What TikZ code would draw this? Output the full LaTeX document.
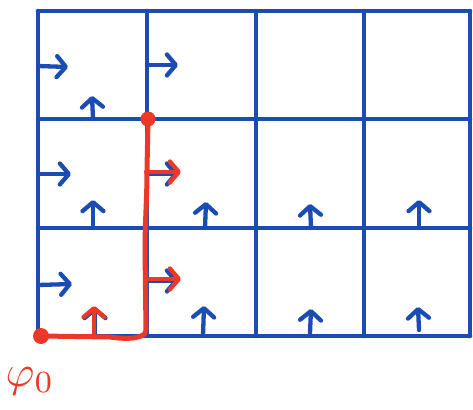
\documentclass[tikz,border=0pt]{standalone}
\usetikzlibrary{arrows.meta}
\definecolor{gblue}{RGB}{27,76,178}
\definecolor{gred}{RGB}{236,56,38}
\begin{document}
\begin{tikzpicture}[x=1pt,y=-1pt,
  gridline/.style={draw=gblue,line width=4.5pt,line cap=round},
  barb/.style={-{Straight Barb[length=9pt,width=21pt,round]},line width=4.3pt,line cap=round},
  bvec/.style={barb,draw=gblue},
  rvec/.style={barb,draw=gred},
  rpath/.style={draw=gred,line width=5pt,line cap=round,line join=round}]
\useasboundingbox (0,0) rectangle (473,409);
% grid
\foreach \x in {38,147,256,364,470} \draw[gridline] (\x,11) -- (\x,336);
\foreach \y in {11,119,228,336} \draw[gridline] (38,\y) -- (470,\y);
% blue horizontal arrows
\coordinate (h1s) at (38,66);  \coordinate (h1e) at (68,67);
\coordinate (h2s) at (147,65); \coordinate (h2e) at (178,65);
\coordinate (h3s) at (38,174); \coordinate (h3e) at (71,174);
\coordinate (h4s) at (38,285); \coordinate (h4e) at (72,284);
\coordinate (h5s) at (147,174); \coordinate (h5e) at (178,174);
\coordinate (h6s) at (147,281); \coordinate (h6e) at (178,281);
\foreach \a in {1,...,6} \draw[bvec] (h\a s) -- (h\a e);
% blue vertical arrows
\coordinate (v1s) at (93,119);  \coordinate (v1e) at (92,96);
\coordinate (v2s) at (93,228);  \coordinate (v2e) at (93,200);
\coordinate (v3s) at (205,228); \coordinate (v3e) at (206,202);
\coordinate (v4s) at (311,228); \coordinate (v4e) at (310,204);
\coordinate (v5s) at (419,228); \coordinate (v5e) at (419,200);
\coordinate (v6s) at (95,336);  \coordinate (v6e) at (95,307);
\coordinate (v7s) at (203,336); \coordinate (v7e) at (204,306);
\coordinate (v8s) at (310,333); \coordinate (v8e) at (311,309);
\coordinate (v9s) at (419,330); \coordinate (v9e) at (418,307);
\foreach \a in {1,...,9} \draw[bvec] (v\a s) -- (v\a e);
% red path
\node[circle,fill=gred,inner sep=0pt,minimum size=16pt] (p0) at (41,336) {};
\node[circle,fill=gred,inner sep=0pt,minimum size=15pt] (p1) at (148,119) {};
\draw[rpath] (p0.center) -- (110,337) .. controls (130,340) and (146,338) .. (146,330) -- (145,250) .. controls (145,220) and (147,200) .. (147,170) -- (p1.center);
% red arrows
\draw[rvec] (146,172) -- (181,172);
\draw[rvec] (146,279) -- (181,279);
\draw[rvec] (94,334) -- (94,306);
% label
\node[text=gred] (lbl) at (30,381) {\scalebox{4.4}{$\varphi_{0}$}};
\end{tikzpicture}
\end{document}
